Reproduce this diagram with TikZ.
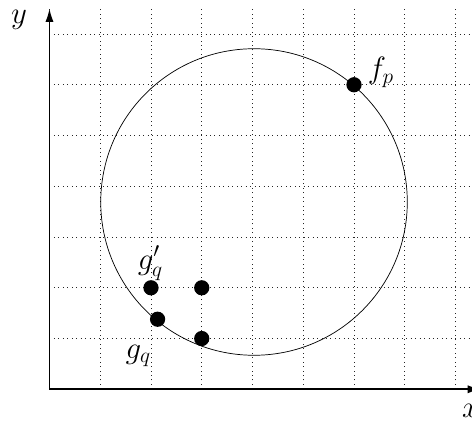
\documentclass[tikz,border=0pt]{standalone}
\usetikzlibrary{arrows.meta}
\begin{document}
\begin{tikzpicture}[
  gridline/.style={dotted, line width=0.5pt, black!85},
  axisline/.style={line width=0.9pt, -{Latex[length=2.6mm,width=1.6mm]}},
  dot/.style={circle, fill=black, inner sep=0pt, minimum size=0.3cm},
  lbl/.style={font=\LARGE, inner sep=0pt}
]
\useasboundingbox (-0.975,-0.664) rectangle (8.325,7.67);
\clip (-0.975,-0.664) rectangle (8.325,7.67);
\draw[gridline] (0,0) grid (8.5,7.5);
\draw[axisline] (0,0) -- (0,7.5);
\draw[axisline] (0,0) -- (8.5,0);
\node[lbl] (ylab) at (-0.6,7.28) {$y$};
\node[lbl] (xlab) at (8.3,-0.42) {$x$};
\node[draw, circle, thin, minimum size=6.04cm, inner sep=0pt] (circ) at (4.03,3.69) {};
\node[dot] (fp) at (6,6) {};
\node[dot] (gqp) at (2,2) {};
\node[dot] (d32) at (3,2) {};
\node[dot] (gq) at (2.13,1.38) {};
\node[dot] (d31) at (3,1) {};
\node[lbl] (fplab) at (6.53,6.25) {$f_p$};
\node[lbl] (gqplab) at (1.99,2.48) {$g'_q$};
\node[lbl] (gqlab) at (1.75,0.66) {$g_q$};
\end{tikzpicture}
\end{document}
